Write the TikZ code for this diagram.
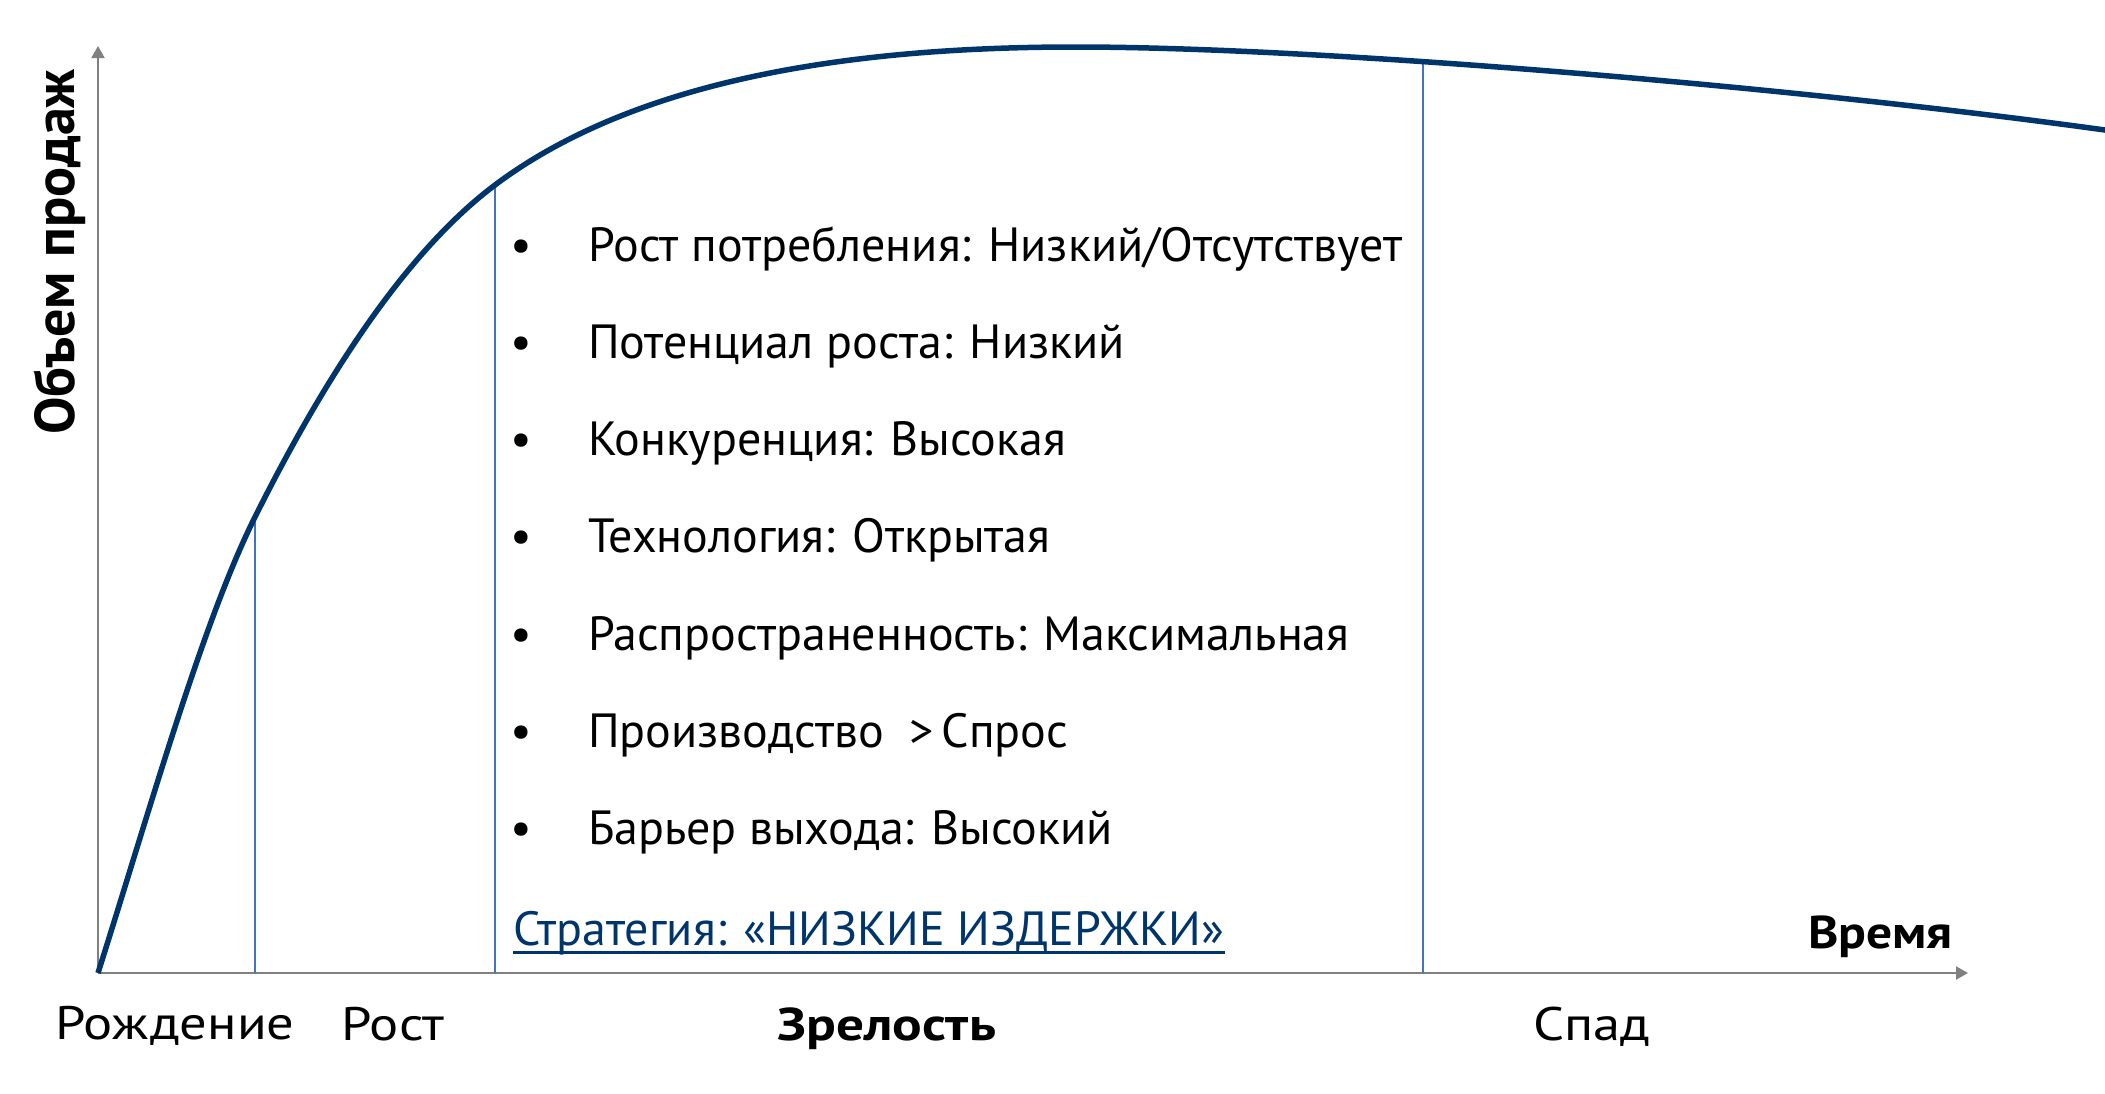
\documentclass[tikz,border=0pt]{standalone}
\usepackage{fontspec}
\setmainfont{PT Sans}
\newfontfamily\widefont[FakeStretch=1.16]{PT Sans}
\newfontfamily\wideboldA[FakeStretch=1.2]{PT Sans}
\newfontfamily\wideboldB[FakeStretch=1.12]{PT Sans}
\usetikzlibrary{arrows.meta}
\definecolor{navy}{RGB}{0,53,107}
\definecolor{axisgray}{RGB}{128,128,128}
\definecolor{stageblue}{RGB}{68,114,196}
\begin{document}
\begin{tikzpicture}[x=1pt,y=-1pt,
  axisline/.style={draw=axisgray, line width=2pt, -{Triangle[length=12pt,width=13pt]}},
  stageline/.style={draw=stageblue, line width=1.4pt},
  curveline/.style={draw=navy, line width=5.5pt},
  bodytext/.style={inner sep=0pt, anchor=base west, font=\fontsize{48}{58}\selectfont},
  bullettext/.style={inner sep=0pt, anchor=base, font=\fontsize{48}{58}\selectfont},
  stagetext/.style={inner sep=0pt, anchor=base, font=\widefont\fontsize{47}{56}\selectfont},
  boldtext/.style={inner sep=0pt, anchor=base, font=\wideboldA\bfseries\fontsize{46}{56}\selectfont},
]
\useasboundingbox (0,0) rectangle (2105,1093);
% axes
\coordinate (O) at (98,973);
\coordinate (ytip) at (98,46);
\coordinate (xtip) at (1968,973);
\draw[axisline] (O) -- (ytip);
\draw[axisline] (O) -- (xtip);
% stage lines
\coordinate (v1t) at (255,517); \coordinate (v1b) at (255,973);
\coordinate (v2t) at (495,185); \coordinate (v2b) at (495,973);
\coordinate (v3t) at (1423,59); \coordinate (v3b) at (1423,973);
\draw[stageline] (v1t) -- (v1b);
\draw[stageline] (v2t) -- (v2b);
\draw[stageline] (v3t) -- (v3b);
% curve
\coordinate (cA) at (98,973);
\coordinate (cB) at (255,517);
\coordinate (cC) at (495,185);
\coordinate (cD) at (1075,47);
\coordinate (cF) at (2112,131);
\draw[curveline] (cA) .. controls (150.3,808.2) and (202.7,621.6) .. (cB)
  .. controls (335,357) and (415,245) .. (cC)
  .. controls (625,87.5) and (825,47) .. (cD)
  .. controls (1325,47) and (1805,88) .. (cF);
% y label
\node[inner sep=0pt, anchor=base, rotate=90, font=\bfseries\fontsize{56}{66}\selectfont] (ylab) at (74,252) {Объем продаж};
% bullets
\foreach \i/\t in {0/{Рост потребления: Низкий/Отсутствует},
                   1/{Потенциал роста: Низкий},
                   2/{Конкуренция: Высокая},
                   3/{Технология: Открытая},
                   4/{Распространенность: Максимальная},
                   5/{Производство~~>\,Спрос},
                   6/{Барьер выхода: Высокий}}{
  \node[bullettext] (b\i) at (521,{261+97.3*\i}) {•};
  \node[bodytext] (t\i) at (588,{261+97.3*\i}) {\t};
}
% strategy
\node[bodytext, text=navy] (strat) at (513,945) {Стратегия: «НИЗКИЕ ИЗДЕРЖКИ»};
\draw[navy, line width=3pt] ([yshift=-7pt]strat.base west) -- ([yshift=-7pt]strat.base east);
% time label
\node[inner sep=0pt, anchor=base east, font=\wideboldB\bfseries\fontsize{46}{56}\selectfont] (time) at (1953,948) {Время};
% stage labels
\node[stagetext] (s1) at (175,1039) {Рождение};
\node[stagetext] (s2) at (393,1040) {Рост};
\node[boldtext] (s3) at (887,1040) {Зрелость};
\node[stagetext] (s4) at (1592,1040) {Спад};
\end{tikzpicture}
\end{document}
